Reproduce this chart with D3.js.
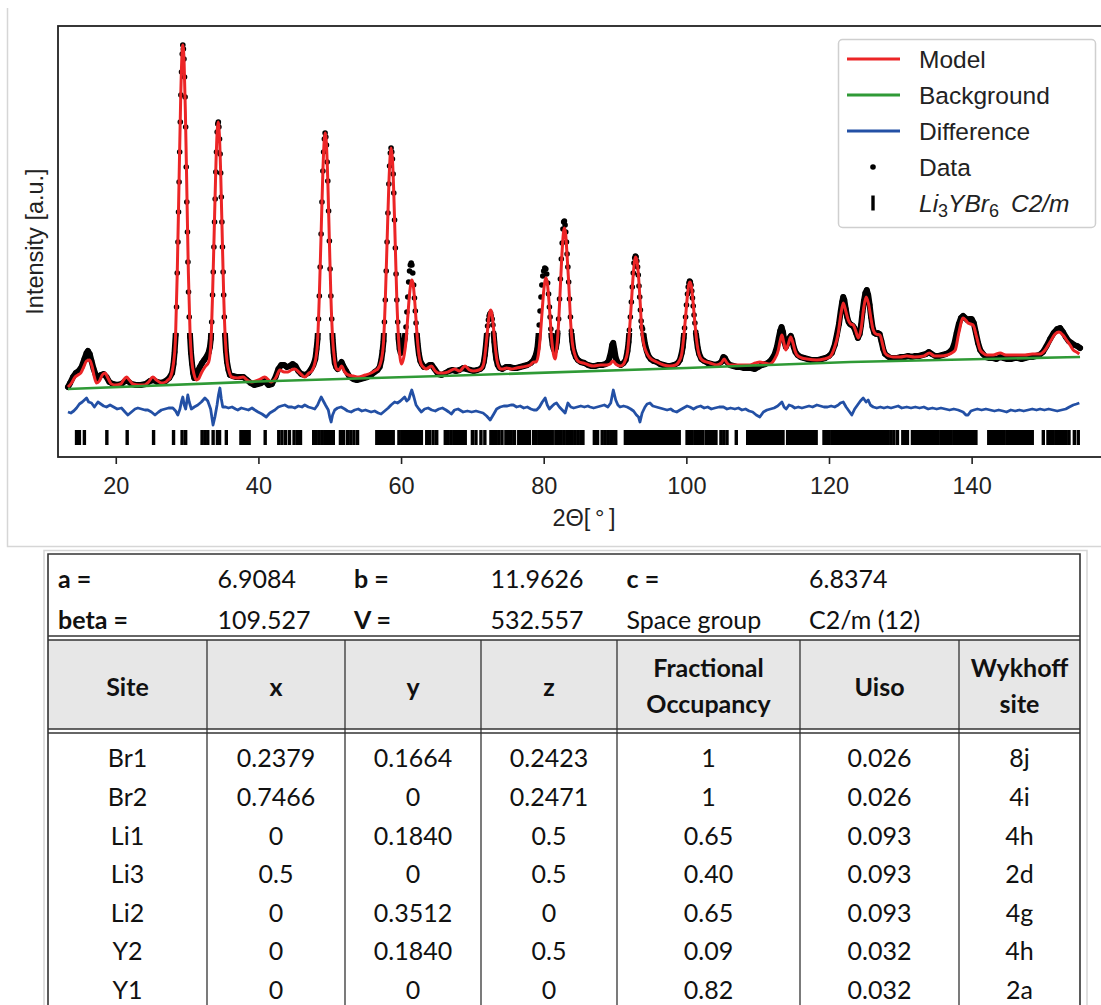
<!DOCTYPE html>
<html>
<head>
<meta charset="utf-8">
<script src="https://cdn.jsdelivr.net/npm/d3@7"></script>
<style>
  body { margin: 0; background: #fff; }
  svg { display: block; }
</style>
</head>
<body>
<svg id="fig" width="1101" height="1005"></svg>
<script>
// ---- pattern data: [2theta, intensity a.u.] ----
const modelPts = [
  [13.3,70],[13.8,74],[14.3,80],[14.7,82],[15.1,84],[15.5,90],[15.9,96],[16.35,97],[16.7,90],[17.0,80],[17.3,74],[17.7,76],[18.1,82],[18.5,84],[18.9,79],[19.4,73],[20.0,72],[20.7,73],[21.1,77],[21.5,80],[21.9,77],[22.4,73],[23.2,72],[24.0,72],[24.6,75],[25.2,80],[25.7,77],[26.4,74],[27.0,75],[27.3,77],
  [27.6,79],[28.08,93],[28.38,120],[28.62,184],[28.86,271],[29.1,358],[29.28,402],[29.4,412],[29.58,395],[29.76,345],[29.98,261],[30.18,184],[30.42,123],[30.66,96],[30.96,83],[31.3,77],
  [31.6,78],[32.0,84],[32.5,90],
  [33.03,95],[33.33,113],[33.57,162],[33.81,228],[34.05,294],[34.23,327],[34.35,335],[34.53,322],[34.71,284],[34.93,220],[35.13,162],[35.37,116],[35.61,95],[35.91,85],[36.25,80],
  [37.1,79],[37.85,80],[38.4,77],[39.0,75],[40.0,77],[40.9,80],[41.8,75],[42.5,80],[43.0,87],[43.6,85],[44.16,85],[44.6,87],[45.1,88],[45.8,84],[46.5,80],[47.1,84],
  [47.48,86],[47.98,96],[48.29,115],[48.54,161],[48.79,223],[49.04,286],[49.23,317],[49.35,324],[49.54,312],[49.73,276],[49.95,216],[50.16,161],[50.41,118],[50.66,98],[50.98,88],[51.3,87],[51.65,91],[52.1,85],[52.6,82],[53.3,81],[54.0,80],[55.0,82],[55.8,84],[56.5,87],
  [56.73,88],[57.23,97],[57.54,115],[57.79,157],[58.04,215],[58.29,273],[58.48,302],[58.6,309],[58.79,298],[58.98,264],[59.2,209],[59.41,157],[59.66,117],[59.85,100],[60.05,93],
  [60.25,96],[60.44,102],[60.69,116],[60.94,140],[61.19,163],[61.38,174],[61.5,177],[61.69,173],[61.88,159],[62.1,137],[62.31,116],[62.56,100],[62.81,93],[63.1,90],[63.5,88],[64.25,91],[64.8,86],[65.2,84],[66.0,84],[66.6,85],[67.5,88],[68.2,86],[68.97,91],[69.6,87],[70.13,86],
  [70.9,87],[71.34,89],[71.61,94],[71.83,106],[72.05,121],[72.27,137],[72.44,145],[72.55,147],[72.72,144],[72.88,135],[73.08,120],[73.27,106],[73.49,95],[73.71,90],[73.98,88],[74.3,88],[74.8,89],[75.5,88],[76.2,89],[77.0,90],[78.1,92],[78.6,95],
  [78.93,95],[79.24,102],[79.49,118],[79.74,142],[79.99,165],[80.18,176],[80.3,179],[80.49,175],[80.68,161],[80.9,139],[81.11,118],[81.36,103],[81.6,98],
  [81.84,110],[82.09,134],[82.34,171],[82.59,207],[82.78,225],[82.9,229],[83.09,222],[83.28,201],[83.5,175],[83.75,138],[84.0,115],[84.3,104],[84.6,98],[85.0,95],[85.56,94],[86.3,92],[86.96,91],[88.0,92],[88.84,92],[89.3,93],[89.7,96],[90.1,93],[90.7,91],[91.2,93],
  [91.4,96],[91.75,105],[92.02,126],[92.29,154],[92.56,183],[92.76,197],[92.9,200],[93.1,195],[93.3,180],[93.5,158],[93.74,128],[94.0,114],[94.45,104],[94.9,99],[95.85,95],[96.8,92],[97.7,91],[98.5,92],[99.0,96],
  [99.35,103],[99.62,119],[99.89,140],[100.16,162],[100.36,173],[100.5,175],[100.7,171],[100.9,158],[101.2,134],[101.45,116],[101.8,102],[102.2,97],[103.3,94],[104.25,92],[104.9,94],[105.3,98],[105.7,94],[106.1,92],[107.5,92],[108.9,92],[109.7,94],[110.3,95],[111.0,94],[111.7,93],[112.3,97],
  [112.9,107],[113.15,116],[113.4,122],[113.65,115],[113.93,107],[114.3,113],[114.63,120],[114.95,114],[115.25,106],[115.5,102],[116.2,99],[116.9,98],[118.3,97],[119.3,98],[120.1,100],[120.7,108],[121.3,124],[121.65,142],[122.0,154],[122.35,146],[122.7,137],[123.05,133],[123.4,132],[123.75,126],[124.1,119],[124.5,128],[124.85,148],[125.2,160],[125.55,153],[125.85,140],[126.2,127],[126.6,123],[127.15,122],[127.5,113],[127.85,104],[128.4,101],[129.0,100],[130.0,100],[130.9,101],[132.0,100],[133.3,101],[134.07,104],[134.8,101],[135.6,101],[136.6,102],[137.2,104],[137.7,107],[138.2,124],[138.8,139],[139.15,137],[139.5,134],[139.85,133],[140.2,132],[140.7,120],[141.2,107],[141.6,104],[142.1,102],[143.0,102],[144.0,104],[144.8,102],[145.8,102],[147.5,102],[148.5,103],[149.6,103],[150.3,107],[151.0,115],[151.7,123],[152.25,125],[152.8,122],[153.3,117],[153.8,112],[154.25,107],[154.7,105],[155.1,103]
];

const dataPts = [
  [13.3,70],[13.6,74],[14.0,80],[14.4,84],[14.8,86],[15.2,90],[15.6,98],[15.9,104],[16.1,106],[16.35,103],[16.6,96],[16.9,88],[17.2,82],[17.5,78],[17.9,82],[18.3,83],[18.7,80],[19.1,75],[19.6,73],[20.2,72],[20.8,73],[21.3,76],[21.7,76],[22.2,73],[22.8,72],[23.5,72],[24.2,73],[24.8,76],[25.3,77],[25.8,75],[26.4,74],[27.0,76],[27.5,79],
  [27.9,84],[28.1,93],[28.25,105],[28.4,122],[28.52,150],[28.62,184],[28.72,215],[28.8,245],[28.88,275],[28.96,305],[29.05,335],[29.13,362],[29.22,385],[29.32,403],[29.4,412],[29.48,408],[29.56,398],[29.64,380],[29.72,360],[29.8,330],[29.88,290],[29.96,255],[30.05,225],[30.12,195],[30.2,165],[30.3,140],[30.42,120],[30.55,104],[30.7,93],[30.85,84],[31.0,79],
  [31.2,80],[31.5,86],[31.8,90],[32.1,94],[32.4,97],[32.7,100],[33.0,104],
  [33.2,110],[33.33,118],[33.45,135],[33.57,162],[33.67,185],[33.76,210],[33.85,235],[33.94,258],[34.03,285],[34.12,305],[34.22,325],[34.3,333],[34.38,335],[34.46,330],[34.55,318],[34.63,303],[34.71,284],[34.8,260],[34.88,235],[34.96,210],[35.05,185],[35.13,162],[35.22,140],[35.32,122],[35.45,106],[35.6,95],[35.8,87],[36.0,82],
  [36.4,81],[36.9,80],[37.4,80],[37.9,80],[38.4,77],[38.9,74],[39.4,72],[39.9,73],[40.4,74],[40.9,76],[41.4,72],[41.9,73],[42.4,80],[42.8,88],[43.2,92],[43.6,92],[44.0,90],[44.4,91],[44.8,93],[45.2,91],[45.6,86],[46.0,83],[46.5,82],[47.0,84],[47.4,88],
  [47.7,92],[47.98,98],[48.15,108],[48.29,118],[48.42,138],[48.54,161],[48.66,190],[48.79,223],[48.91,255],[49.04,286],[49.14,305],[49.25,318],[49.35,324],[49.45,320],[49.54,312],[49.64,295],[49.73,276],[49.84,246],[49.95,216],[50.05,188],[50.16,161],[50.28,138],[50.41,118],[50.55,104],[50.7,94],[50.9,90],[51.1,88],[51.4,92],[51.65,95],[51.9,91],[52.3,86],[52.8,80],[53.3,78],[53.8,77],[54.3,78],[54.8,79],[55.3,80],[55.8,82],[56.3,85],[56.7,87],
  [57.0,90],[57.23,97],[57.4,106],[57.54,116],[57.67,135],[57.79,157],[57.92,186],[58.04,215],[58.16,244],[58.29,273],[58.39,291],[58.5,304],[58.6,309],[58.7,305],[58.79,298],[58.89,283],[58.98,264],[59.09,237],[59.2,209],[59.3,183],[59.41,157],[59.53,135],[59.66,118],[59.8,108],[59.95,104],[60.1,106],
  [60.3,110],[60.5,118],[60.69,130],[60.82,145],[60.94,160],[61.07,175],[61.19,186],[61.3,192],[61.42,194],[61.52,192],[61.64,184],[61.76,172],[61.88,159],[62.0,146],[62.1,134],[62.22,122],[62.35,112],[62.5,103],[62.7,96],[62.9,93],[63.2,90],[63.6,90],[64.0,92],[64.3,92],[64.7,88],[65.2,83],[65.7,82],[66.2,84],[66.7,86],[67.2,87],[67.7,86],[68.2,87],[68.7,89],[69.2,88],[69.7,87],[70.2,86],[70.7,87],[71.1,88],
  [71.4,90],[71.6,95],[71.75,102],[71.9,112],[72.02,122],[72.13,131],[72.25,137],[72.35,141],[72.45,143],[72.55,144],[72.65,141],[72.77,138],[72.88,132],[72.98,124],[73.08,115],[73.2,106],[73.35,98],[73.55,92],[73.8,89],[74.2,88],[74.7,90],[75.2,90],[75.7,89],[76.2,89],[76.7,90],[77.2,91],[77.7,92],[78.2,94],[78.6,97],
  [78.9,102],[79.1,108],[79.24,118],[79.37,132],[79.49,146],[79.62,160],[79.74,172],[79.87,181],[80.0,186],[80.15,189],[80.3,188],[80.42,183],[80.55,174],[80.68,163],[80.8,150],[80.9,140],[81.0,128],[81.11,120],[81.25,112],[81.4,108],[81.55,106],[81.7,109],
  [81.84,115],[81.96,125],[82.09,138],[82.22,158],[82.34,178],[82.47,198],[82.59,214],[82.7,228],[82.8,235],[82.9,236],[83.0,232],[83.09,225],[83.19,215],[83.28,203],[83.39,190],[83.5,175],[83.62,158],[83.75,140],[83.88,126],[84.0,116],[84.15,108],[84.3,104],[84.5,100],[84.8,97],[85.2,95],[85.7,94],[86.2,92],[86.7,91],[87.2,91],[87.7,92],[88.2,92],[88.7,93],[89.1,96],[89.4,104],[89.6,112],[89.75,114],[89.9,108],[90.1,99],[90.4,94],[90.8,92],[91.2,94],[91.5,97],
  [91.75,106],[91.9,115],[92.02,127],[92.15,140],[92.29,155],[92.42,170],[92.56,184],[92.66,194],[92.76,199],[92.86,201],[92.96,200],[93.06,196],[93.16,190],[93.26,182],[93.36,171],[93.46,160],[93.56,147],[93.66,136],[93.76,130],[93.86,128],[94.0,122],[94.2,113],[94.45,106],[94.7,101],[95.0,98],[95.4,96],[95.85,95],[96.3,93],[96.8,92],[97.3,91],[97.8,91],[98.3,92],[98.8,94],[99.1,97],
  [99.35,104],[99.5,110],[99.62,119],[99.75,129],[99.89,140],[100.02,152],[100.16,163],[100.26,170],[100.36,174],[100.46,176],[100.56,175],[100.66,172],[100.76,166],[100.86,159],[100.96,151],[101.08,142],[101.2,134],[101.32,125],[101.45,117],[101.6,109],[101.8,103],[102.1,98],[102.5,96],[103.0,94],[103.5,93],[104.0,92],[104.5,93],[104.9,95],[105.2,100],[105.4,99],[105.7,95],[106.1,92],[106.6,91],[107.1,90],[107.6,90],[108.1,89],[108.6,89],[109.1,89],[109.6,88],[110.1,90],[110.6,92],[111.1,93],[111.6,95],[112.0,98],[112.4,103],
  [112.7,110],[112.95,119],[113.15,126],[113.35,130],[113.55,125],[113.75,115],[113.95,110],[114.2,114],[114.45,119],[114.65,121],[114.85,117],[115.05,110],[115.3,105],[115.6,102],[116.0,100],[116.5,99],[117.0,98],[117.5,97],[118.0,97],[118.5,97],[119.0,98],[119.5,99],[120.0,101],[120.4,104],[120.8,112],[121.1,122],[121.4,133],[121.65,146],[121.85,155],[122.0,160],[122.15,157],[122.35,148],[122.55,140],[122.75,135],[122.95,133],[123.15,132],[123.35,131],[123.55,129],[123.8,124],[124.05,119],[124.3,123],[124.5,132],[124.7,145],[124.9,156],[125.1,164],[125.3,167],[125.5,162],[125.7,152],[125.9,140],[126.1,130],[126.35,124],[126.6,123],[126.85,124],[127.1,123],[127.35,116],[127.6,108],[127.85,103],[128.2,101],[128.6,99],[129.1,99],[129.6,99],[130.1,100],[130.6,100],[131.1,101],[131.6,100],[132.1,101],[132.6,101],[133.1,102],[133.6,103],[134.0,105],[134.4,103],[134.9,101],[135.4,101],[135.9,102],[136.4,103],[136.9,105],[137.3,108],[137.6,114],[137.9,124],[138.2,133],[138.5,139],[138.8,141],[139.1,139],[139.4,137],[139.7,138],[140.0,138],[140.3,134],[140.6,124],[140.9,114],[141.2,107],[141.6,103],[142.0,100],[142.5,99],[143.0,99],[143.5,98],[144.0,100],[144.5,99],[145.0,98],[145.5,98],[146.0,99],[146.5,99],[147.0,98],[147.5,99],[148.0,100],[148.5,100],[149.0,101],[149.5,102],[150.0,105],[150.5,111],[151.0,118],[151.5,124],[152.0,128],[152.4,129],[152.8,125],[153.2,120],[153.6,116],[154.0,114],[154.4,112],[154.8,111],[155.2,109]
];

const backgroundPts = [[13.3,68],[40,75.5],[68,81.5],[100,89],[123,95],[155.2,100]];

const diffPts = [
  [13.3,45],[13.7,44],[14.1,46],[14.5,49],[14.9,53],[15.3,55],[15.6,57],[15.9,59],[16.2,55],[16.6,54],[17.0,50],[17.5,55],[17.9,53],[18.3,51],[18.7,50],[19.2,52],[19.7,50],[20.2,48],[20.8,49],[21.3,45],[21.7,42],[22.2,45],[22.7,48],[23.1,49],[23.6,48],[24.1,47],[24.5,47],[25.0,45],[25.5,42],[26.0,45],[26.4,47],[26.9,48],[27.4,49],[28.0,49],[28.4,46],[28.7,42],[29.0,48],[29.2,55],[29.4,60],[29.6,52],[29.8,48],[30.1,62],[30.3,55],[30.6,48],[31.0,50],[31.5,52],[32.0,55],[32.5,59],[32.9,56],[33.3,48],[33.64,32],[33.9,40],[34.2,52],[34.4,62],[34.6,69],[34.8,58],[35.0,50],[35.4,50],[35.8,49],[36.3,50],[36.8,48],[37.1,47],[37.6,49],[38.1,48],[38.6,47],[39.1,49],[39.5,47],[39.95,45],[40.5,43],[41.1,40],[41.6,44],[42.3,47],[42.8,50],[43.2,51],[43.7,52],[44.2,50],[44.7,50],[45.1,49],[45.6,51],[46.1,50],[46.5,52],[47.0,50],[47.5,49],[47.9,48],[48.3,52],[48.6,57],[48.8,60],[49.1,56],[49.4,52],[49.8,47],[50.0,40],[50.2,35],[50.4,42],[50.7,47],[51.1,49],[51.6,50],[52.1,48],[52.5,46],[53.0,45],[53.5,47],[54.0,48],[54.5,46],[55.0,47],[55.4,46],[55.8,45],[56.3,46],[56.8,44],[57.2,43],[57.7,46],[58.2,49],[58.6,52],[59.1,55],[59.5,54],[59.9,56],[60.2,58],[60.5,60],[60.8,56],[61.1,58],[61.3,63],[61.5,67],[61.8,60],[62.1,52],[62.5,48],[62.85,45],[63.3,48],[63.8,49],[64.3,47],[64.8,46],[65.3,48],[65.8,49],[66.3,47],[66.7,45],[67.05,43],[67.5,47],[68.0,48],[68.7,45],[69.3,46],[69.9,45],[70.5,46],[71.0,45],[71.5,44],[72.0,41],[72.5,37],[73.0,43],[73.4,48],[73.9,50],[74.4,51],[74.9,51],[75.4,52],[75.75,52],[76.2,50],[76.7,51],[77.2,49],[77.7,50],[78.2,48],[78.6,47],[79.0,47],[79.4,50],[79.8,55],[80.2,59],[80.5,52],[80.8,48],[81.2,51],[81.5,53],[81.8,54],[82.2,50],[82.6,47],[83.0,44],[83.4,54],[83.8,50],[84.2,49],[84.7,50],[85.2,51],[85.7,50],[86.2,51],[86.5,50],[87.0,49],[87.5,50],[88.0,51],[88.5,52],[89.0,50],[89.4,54],[89.76,67],[90.1,57],[90.4,52],[90.7,50],[91.2,51],[91.7,50],[92.2,48],[92.6,46],[93.0,42],[93.3,40],[93.5,35],[93.8,44],[94.2,50],[94.5,53],[94.9,54],[95.3,51],[95.8,50],[96.3,49],[96.8,48],[97.3,47],[97.8,48],[98.2,46],[98.65,45],[99.1,47],[99.6,49],[100.1,51],[100.5,50],[101.0,48],[101.5,50],[102.0,51],[102.5,49],[103.0,50],[103.5,48],[104.0,49],[104.6,50],[105.2,50],[105.7,48],[106.2,49],[106.8,48],[107.3,49],[107.8,47],[108.3,48],[108.8,46],[109.3,45],[109.8,42],[110.3,40],[110.8,45],[111.3,47],[111.8,48],[112.3,49],[112.8,51],[113.1,53],[113.4,55],[113.7,50],[114.0,48],[114.4,52],[114.8,51],[115.2,49],[115.7,50],[116.2,49],[116.7,50],[117.2,51],[117.7,50],[118.3,52],[118.8,51],[119.3,50],[119.8,50],[120.3,51],[120.8,50],[121.3,52],[121.6,54],[122.0,55],[122.4,50],[122.8,46],[123.2,42],[123.6,48],[124.0,52],[124.4,56],[124.8,59],[125.2,55],[125.5,57],[125.8,52],[126.2,50],[126.7,49],[127.2,50],[127.7,49],[128.2,50],[128.7,49],[129.2,50],[129.7,51],[130.2,49],[130.9,50],[131.5,49],[132.1,50],[132.7,49],[133.3,50],[133.9,48],[134.5,49],[135.1,48],[135.7,49],[136.3,48],[136.9,47],[137.5,48],[138.1,47],[138.8,45],[139.2,42],[139.5,42],[139.9,46],[140.3,47],[140.8,48],[141.4,47],[142.0,48],[142.6,47],[143.2,46],[143.8,47],[144.4,46],[144.9,45],[145.5,47],[146.1,46],[146.7,47],[147.3,46],[147.9,47],[148.5,48],[149.1,47],[149.6,48],[150.2,47],[150.8,48],[151.4,47],[152.0,46],[152.6,47],[153.2,48],[153.7,50],[154.25,52],[154.7,53],[155.1,54]
];

// Bragg reflection positions (2theta) for Li3YBr6 C2/m
const reflections = [
  14.5,14.9,15.6,18.75,21.6,25.3,28.1,29.3,29.8,32.1,32.5,32.9,33.65,34.25,34.55,35.5,37.55,37.9,38.3,38.7,40.95,
  42.85,43.3,43.8,44.35,45.0,45.45,45.9,47.75,48.1,48.5,48.9,49.3,49.7,50.1,50.5,51.5,51.95,52.5,52.95,53.4,53.9,
  56.6,56.95,57.3,57.7,58.1,58.5,58.9,59.7,60.1,60.5,60.9,61.3,61.65,62.05,62.45,62.85,63.6,64.0,64.5,65.0,
  66.2,66.6,67.0,67.4,67.8,68.2,68.6,69.0,70.0,70.5,71.2,71.75,72.6,72.95,73.3,73.7,74.15,74.7,75.05,75.45,75.9,
  76.5,76.9,77.3,77.7,78.0,78.6,78.95,79.35,79.7,80.1,80.5,80.85,81.2,81.7,82.05,82.45,82.85,83.25,83.6,
  84.0,84.4,84.8,85.2,85.5,87.1,87.55,88.2,88.6,89.0,89.4,89.75,90.1,
  91.45,91.8,92.15,92.5,92.9,93.25,93.6,93.95,94.3,94.7,95.05,95.4,95.75,96.1,96.5,96.85,97.2,97.55,97.9,98.3,98.65,99.0,
  100.1,100.45,100.8,101.2,101.55,101.9,102.25,102.75,103.1,103.45,103.8,104.15,104.85,105.25,105.7,107.0,
  108.6,108.95,109.3,109.7,110.05,110.4,110.75,111.1,111.5,111.85,112.2,112.55,112.9,113.25,113.55,
  114.2,114.55,114.9,115.3,115.65,116.0,116.35,116.7,117.1,117.45,117.8,118.2,
  119.3,119.65,120.0,120.4,120.75,121.1,121.45,121.8,122.2,122.55,122.9,123.25,123.6,124.0,124.35,124.7,125.05,125.4,125.8,126.15,126.5,126.85,127.2,127.5,
  127.95,128.3,128.7,129.1,129.6,130.35,130.75,131.0,
  131.7,132.05,132.4,132.8,133.15,133.5,133.85,134.25,134.6,134.95,135.3,135.7,136.05,136.4,136.75,137.1,137.5,137.85,138.2,138.55,138.9,139.3,139.65,140.0,140.35,140.6,
  142.4,142.75,143.1,143.5,143.85,144.2,144.55,144.95,145.3,145.65,146.0,146.4,146.75,147.1,147.45,147.85,148.2,148.5,
  150.05,150.7,151.05,151.4,151.8,152.15,152.5,152.85,153.25,153.65,154.4,154.95
];
const reflectionLevel = 19.5;

const xTicks = [20, 40, 60, 80, 100, 120, 140];
const legendLabels = ["Model", "Background", "Difference", "Data"];

// ---- refinement table ----
const cellRows = [
  ["a =", "6.9084", "b =", "11.9626", "c =", "6.8374"],
  ["beta =", "109.527", "V =", "532.557", "Space group", "C2/m (12)"]
];
const cellBold = [true, false, true, false, true, false];
const cellBoldRow2 = [true, false, true, false, false, false];
const headers = [["Site"], ["x"], ["y"], ["z"], ["Fractional", "Occupancy"], ["Uiso"], ["Wykhoff", "site"]];
const sites = ["Br1", "Br2", "Li1", "Li3", "Li2", "Y2", "Y1"];
const siteX = ["0.2379", "0.7466", "0", "0.5", "0", "0", "0"];
const siteY = ["0.1664", "0", "0.1840", "0", "0.3512", "0.1840", "0"];
const siteZ = ["0.2423", "0.2471", "0.5", "0.5", "0", "0.5", "0"];
const occupancy = ["1", "1", "0.65", "0.40", "0.65", "0.09", "0.82"];
const uiso = ["0.026", "0.026", "0.093", "0.093", "0.093", "0.032", "0.032"];
const wyckoff = ["8j", "4i", "4h", "2d", "4g", "4h", "2a"];

const RED = "#ec2526", GREEN = "#2f9a36", BLUE = "#2350a5", INK = "#222";
const SANS = "'Liberation Sans', Arial, sans-serif";
const TFONT = "Lato, 'Open Sans', sans-serif";

const svg = d3.select("#fig");

// light frames around the two pasted panels
const frames = svg.append("g").attr("stroke", "#d6d6d6").attr("stroke-width", 1.5).attr("fill", "none");
frames.append("path").attr("d", "M7.5,8 V546.5 H1101");
frames.append("path").attr("d", "M44,1005 V550.5 H1087 V1005");

// ---- chart ----
const plot = { left: 58, top: 26, right: 1110, bottom: 457 };
const x = d3.scaleLinear().domain([11.9, 159.4]).range([plot.left, plot.right]);
const y = d3.scaleLinear().domain([0, 431]).range([plot.bottom, plot.top]);
const line = d3.line().x(d => x(d[0])).y(d => y(d[1]));
const smooth = d3.line().x(d => x(d[0])).y(d => y(d[1])).curve(d3.curveMonotoneX);

const defs = svg.append("defs");
defs.append("clipPath").attr("id", "plotClip").append("rect")
  .attr("x", plot.left).attr("y", plot.top)
  .attr("width", plot.right - plot.left).attr("height", plot.bottom - plot.top);
// the dense data band shows near the baseline, and everywhere on the broad high-angle peaks
const bandClip = defs.append("clipPath").attr("id", "bandClip");
bandClip.append("rect").attr("x", plot.left).attr("y", y(124))
  .attr("width", plot.right - plot.left).attr("height", plot.bottom - y(124));
bandClip.append("rect").attr("x", x(104)).attr("y", plot.top)
  .attr("width", plot.right - x(104)).attr("height", plot.bottom - plot.top);

const g = svg.append("g").attr("clip-path", "url(#plotClip)");

g.append("path").datum(dataPts).attr("d", line)
  .attr("fill", "none").attr("stroke", "#000").attr("stroke-width", 6)
  .attr("stroke-linejoin", "round").attr("stroke-linecap", "round")
  .attr("clip-path", "url(#bandClip)");

g.selectAll("circle.data").data(dataPts).join("circle").attr("class", "data")
  .attr("cx", d => x(d[0])).attr("cy", d => y(d[1])).attr("r", 2.8).attr("fill", "#000");

g.append("path").datum(modelPts).attr("d", smooth)
  .attr("fill", "none").attr("stroke", RED).attr("stroke-width", 3).attr("stroke-linejoin", "round");

g.append("path").datum(backgroundPts).attr("d", smooth)
  .attr("fill", "none").attr("stroke", GREEN).attr("stroke-width", 2.6);

g.append("path").datum(diffPts).attr("d", line)
  .attr("fill", "none").attr("stroke", BLUE).attr("stroke-width", 2.8).attr("stroke-linejoin", "round");

g.selectAll("line.refl").data(reflections).join("line").attr("class", "refl")
  .attr("x1", d => x(d)).attr("x2", d => x(d))
  .attr("y1", y(reflectionLevel) - 7.5).attr("y2", y(reflectionLevel) + 7.5)
  .attr("stroke", "#000").attr("stroke-width", 3.4);

// axes frame
svg.append("rect").attr("x", plot.left).attr("y", plot.top)
  .attr("width", plot.right - plot.left).attr("height", plot.bottom - plot.top)
  .attr("fill", "none").attr("stroke", INK).attr("stroke-width", 1.8);

const gx = svg.append("g").attr("transform", `translate(0,${plot.bottom})`)
  .call(d3.axisBottom(x).tickValues(xTicks).tickSize(7).tickPadding(13).tickFormat(d3.format("d")));
gx.select(".domain").remove();
gx.selectAll(".tick line").attr("stroke", INK).attr("stroke-width", 1.6);
gx.selectAll(".tick text").attr("font-family", SANS).attr("font-size", 23.5).attr("fill", INK);

svg.append("text").attr("x", (plot.left + plot.right) / 2).attr("y", 526)
  .attr("text-anchor", "middle").attr("font-family", SANS).attr("font-size", 23.5).attr("fill", INK)
  .text("2Θ[\u2009°\u2009]");

svg.append("text").attr("transform", `translate(43,${(plot.top + plot.bottom) / 2}) rotate(-90)`)
  .attr("text-anchor", "middle").attr("font-family", SANS).attr("font-size", 23.5).attr("fill", INK)
  .text("Intensity [a.u.]");

// legend
const lg = svg.append("g");
lg.append("rect").attr("x", 838.5).attr("y", 39.5).attr("width", 257).attr("height", 188).attr("rx", 4)
  .attr("fill", "#fff").attr("fill-opacity", 0.85).attr("stroke", "#cfcfcf").attr("stroke-width", 1.5);
const rowY = i => 59 + i * 36;
[RED, GREEN, BLUE].forEach((c, i) => {
  lg.append("line").attr("x1", 847).attr("x2", 900).attr("y1", rowY(i)).attr("y2", rowY(i))
    .attr("stroke", c).attr("stroke-width", 2.8);
});
lg.append("circle").attr("cx", 873).attr("cy", rowY(3)).attr("r", 2.8).attr("fill", "#000");
lg.append("line").attr("x1", 873).attr("x2", 873).attr("y1", rowY(4) - 7.5).attr("y2", rowY(4) + 7.5)
  .attr("stroke", "#000").attr("stroke-width", 3.4);
legendLabels.forEach((t, i) => {
  lg.append("text").attr("x", 919).attr("y", rowY(i) + 8.7)
    .attr("font-family", SANS).attr("font-size", 24.5).attr("fill", INK).text(t);
});
const phase = lg.append("text").attr("x", 919).attr("y", rowY(4) + 8.7)
  .attr("font-family", SANS).attr("font-size", 24.5).attr("fill", INK);
phase.append("tspan").attr("font-style", "italic").text("Li");
phase.append("tspan").attr("font-size", 18).attr("dy", 5).text("3");
phase.append("tspan").attr("font-style", "italic").attr("dy", -5).text("YBr");
phase.append("tspan").attr("font-size", 18).attr("dy", 5).text("6");
phase.append("tspan").attr("font-style", "italic").attr("dy", -5).attr("dx", 12).text("C2/m");

// ---- table ----
const T = { left: 48, right: 1080, top: 554, headTop: 640, headBottom: 729, bodyTop: 733 };
const colEdges = [48, 207, 345, 481, 617, 800, 959, 1080];
const colCenter = i => (colEdges[i] + colEdges[i + 1]) / 2;
const tb = svg.append("g");

tb.append("rect").attr("x", T.left).attr("y", T.headTop).attr("width", T.right - T.left)
  .attr("height", T.headBottom - T.headTop).attr("fill", "#e7e7e7");

const rules = tb.append("g").attr("stroke", "#333").attr("stroke-width", 1.3);
rules.append("path").attr("d", `M${T.left},1005 V${T.top} H${T.right} V1005`).attr("fill", "none").attr("stroke-width", 1.6);
[636, 640, 729, 733].forEach(v => rules.append("line").attr("x1", T.left).attr("x2", T.right).attr("y1", v).attr("y2", v));
colEdges.slice(1, -1).forEach(v => rules.append("line").attr("x1", v).attr("x2", v).attr("y1", T.headTop).attr("y2", 1005));

const paramX = [58, 217.5, 354, 490.5, 626.5, 809];
const paramY = [579, 620];
cellRows.forEach((row, r) => {
  const bold = r === 0 ? cellBold : cellBoldRow2;
  row.forEach((t, c) => {
    tb.append("text").attr("x", paramX[c]).attr("y", paramY[r] + 9)
      .attr("font-family", TFONT).attr("font-size", 25).attr("font-weight", bold[c] ? 700 : 400)
      .attr("fill", "#111").text(t);
  });
});

headers.forEach((lines, c) => {
  const mid = (T.headTop + T.headBottom) / 2 + 2;
  lines.forEach((t, k) => {
    const cy = lines.length === 1 ? mid : mid + (k === 0 ? -18.5 : 17.5);
    tb.append("text").attr("x", colCenter(c)).attr("y", cy + 9).attr("text-anchor", "middle")
      .attr("font-family", TFONT).attr("font-size", 25).attr("font-weight", 700).attr("fill", "#111").text(t);
  });
});

const columns = [sites, siteX, siteY, siteZ, occupancy, uiso, wyckoff];
const rowCenter = i => 758.3 + i * 38.6;
columns.forEach((col, c) => {
  col.forEach((t, i) => {
    tb.append("text").attr("x", colCenter(c)).attr("y", rowCenter(i) + 9).attr("text-anchor", "middle")
      .attr("font-family", TFONT).attr("font-size", 25).attr("fill", "#111").text(t);
  });
});
</script>
</body>
</html>
